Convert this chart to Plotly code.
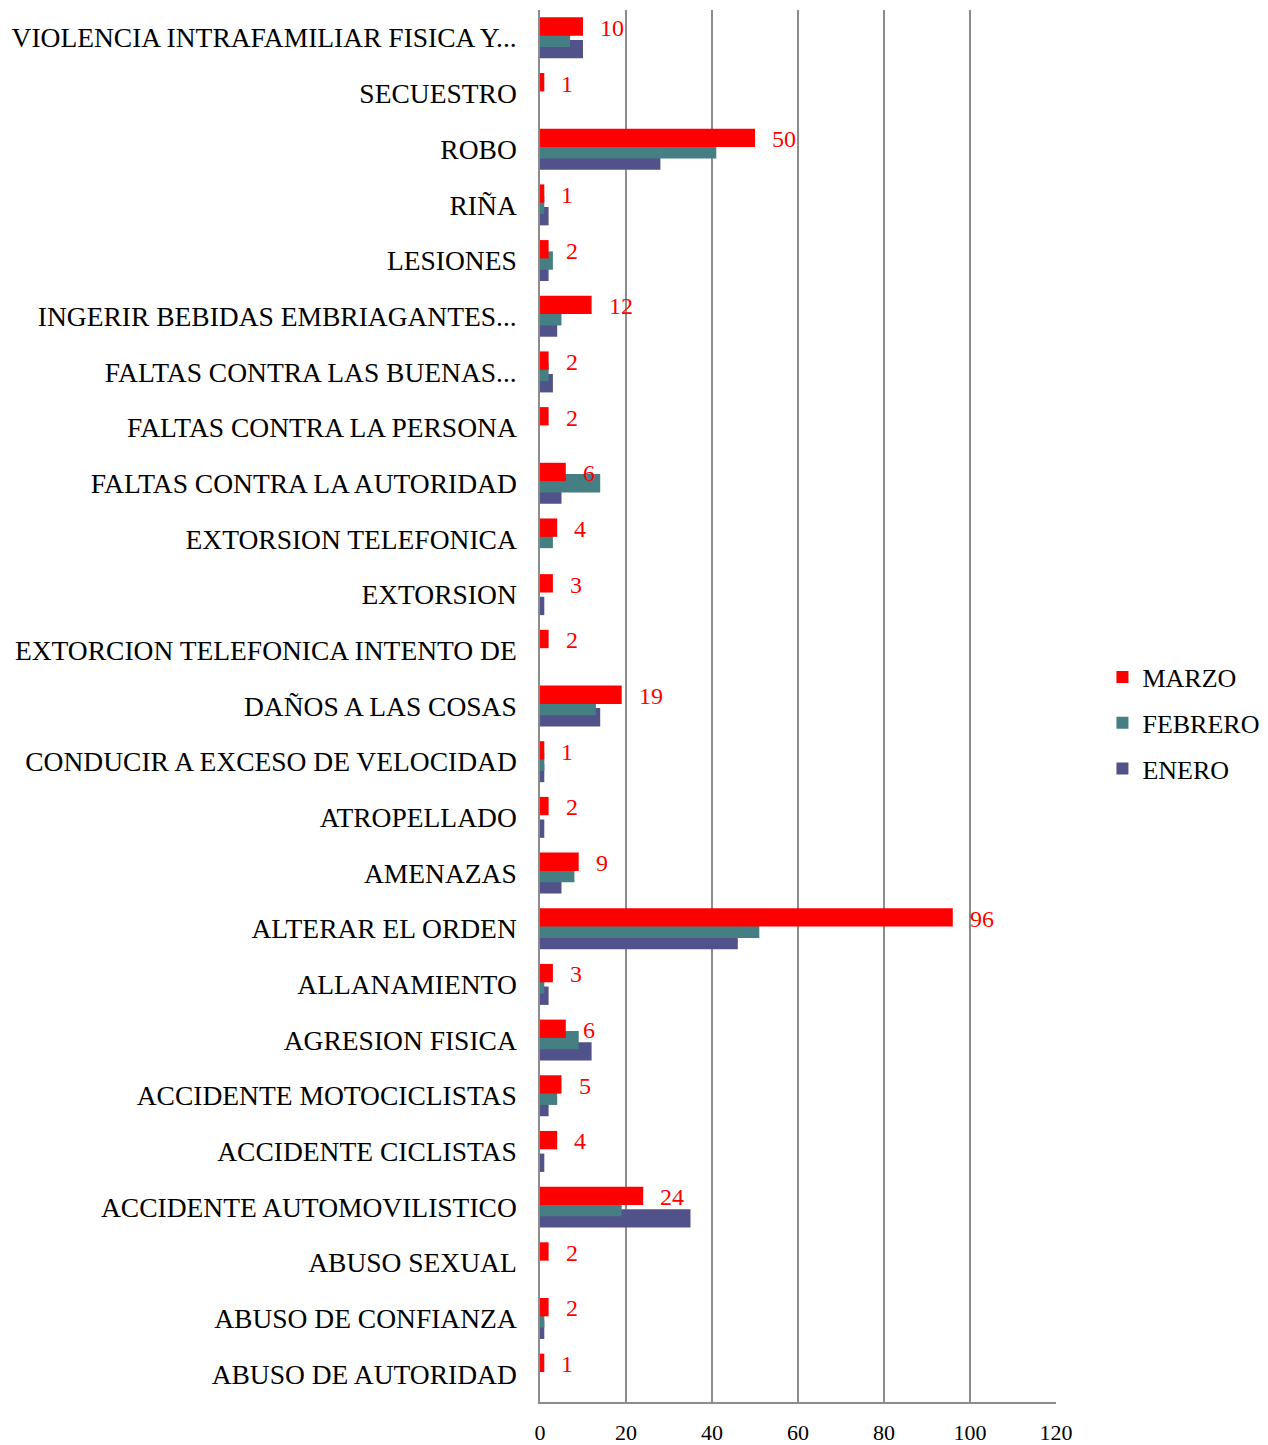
import plotly.graph_objects as go

categories = [
    "ABUSO DE AUTORIDAD", "ABUSO DE CONFIANZA", "ABUSO SEXUAL",
    "ACCIDENTE AUTOMOVILISTICO", "ACCIDENTE CICLISTAS", "ACCIDENTE MOTOCICLISTAS",
    "AGRESION FISICA", "ALLANAMIENTO", "ALTERAR EL ORDEN", "AMENAZAS",
    "ATROPELLADO", "CONDUCIR A EXCESO DE VELOCIDAD", "DAÑOS A LAS COSAS",
    "EXTORCION TELEFONICA INTENTO DE", "EXTORSION", "EXTORSION TELEFONICA",
    "FALTAS CONTRA LA AUTORIDAD", "FALTAS CONTRA LA PERSONA",
    "FALTAS CONTRA LAS BUENAS...", "INGERIR BEBIDAS EMBRIAGANTES...",
    "LESIONES", "RIÑA", "ROBO", "SECUESTRO", "VIOLENCIA INTRAFAMILIAR FISICA Y...",
]
enero   = [0, 1, 0, 35, 1, 2, 12, 2, 46, 5, 1, 1, 14, 0, 1, 0, 5, 0, 3, 4, 2, 2, 28, 0, 10]
febrero = [0, 1, 0, 19, 0, 4, 9, 1, 51, 8, 0, 1, 13, 0, 0, 3, 14, 0, 2, 5, 3, 1, 41, 0, 7]
marzo   = [1, 2, 2, 24, 4, 5, 6, 3, 96, 9, 2, 1, 19, 2, 3, 4, 6, 2, 2, 12, 2, 1, 50, 1, 10]
x_ticks = [0, 20, 40, 60, 80, 100, 120]

FONT = "Liberation Serif"
W = 0.33
fig = go.Figure()
series = [("ENERO", enero, "#52528A", -0.203, 3),
          ("FEBRERO", febrero, "#467F83", 0.0, 2),
          ("MARZO", marzo, "#FF0000", 0.203, 1)]
for name, vals, col, ctr, rank in series:
    fig.add_trace(go.Bar(
        y=categories, x=vals, orientation="h", name=name,
        marker=dict(color=col, line=dict(width=0)),
        width=W, offset=ctr - W / 2, legendgroup=name, legendrank=rank,
    ))

for cat, v in zip(categories, marzo):
    fig.add_annotation(x=v, y=cat, text=str(v), showarrow=False, xanchor="left",
                       xshift=15, yshift=10, font=dict(family=FONT, size=24, color="#FF0000"))

fig.update_layout(
    width=1260, height=1437, barmode="overlay",
    plot_bgcolor="white", paper_bgcolor="white",
    margin=dict(l=532, r=212, t=2, b=43),
    font=dict(family=FONT, size=26, color="black"),
    legend=dict(x=1.09, y=0.4878, xanchor="left", yanchor="middle",
                traceorder="grouped", tracegroupgap=9,
                font=dict(family=FONT, size=26, color="black")),
    xaxis=dict(range=[0, 120], tickvals=x_ticks, showgrid=True, gridcolor="#8C8C8C", gridwidth=1.5,
               showline=True, linecolor="#8C8C8C", linewidth=1.5, zeroline=False,
               ticks="outside", ticklen=10, tickcolor="rgba(0,0,0,0)",
               tickfont=dict(family=FONT, size=22), automargin=False, fixedrange=True),
    yaxis=dict(categoryorder="array", categoryarray=categories, range=[-0.5, 24.5],
               showline=True, linecolor="#8C8C8C", linewidth=1.5, showgrid=False,
               ticks="outside", ticklen=16, tickcolor="rgba(0,0,0,0)",
               tickfont=dict(family=FONT, size=27.5), automargin=False),
)
fig.write_html("out.html")
